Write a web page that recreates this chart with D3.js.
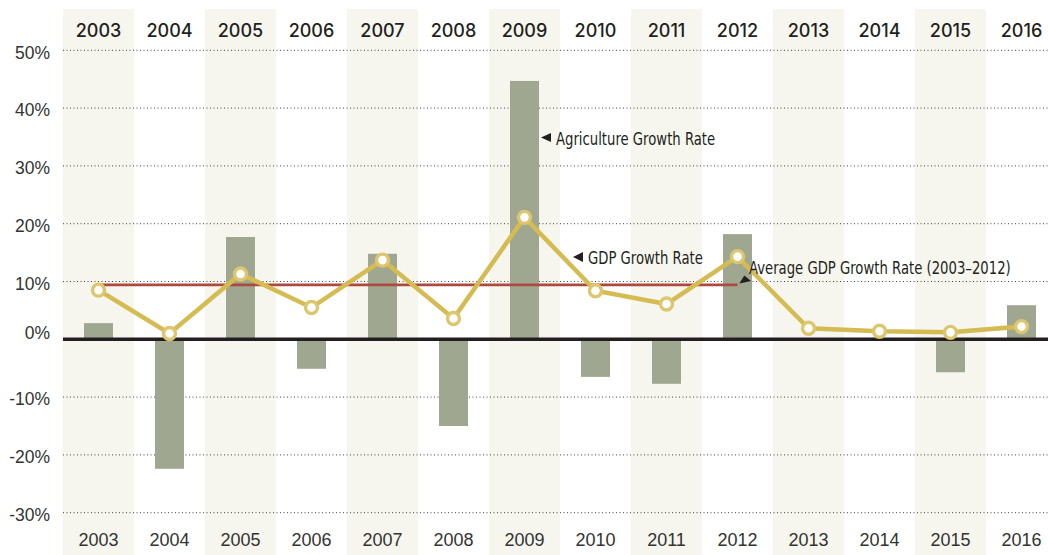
<!DOCTYPE html>
<html>
<head>
<meta charset="utf-8">
<script src="https://cdn.jsdelivr.net/npm/d3@7"></script>
<style>
  html, body { margin: 0; padding: 0; background: #fff; }
  svg { display: block; }
</style>
</head>
<body>
<svg id="chart" width="1048" height="555"></svg>
<script>
const years = ["2003","2004","2005","2006","2007","2008","2009","2010","2011","2012","2013","2014","2015","2016"];
const agriculture = [2.8, -22.4, 17.7, -5.1, 14.8, -15.0, 44.7, -6.5, -7.7, 18.2, null, null, -5.7, 5.9];
const gdp = [8.5, 1.0, 11.3, 5.5, 13.7, 3.6, 21.1, 8.4, 6.1, 14.3, 1.9, 1.4, 1.2, 2.2];
const averageGdp = 9.4;
const averageRange = ["2003", "2012"];
const yTicks = [50, 40, 30, 20, 10, 0, -10, -20, -30];
const annotations = [
  { text: "Agriculture Growth Rate", x: 556, y: 145 },
  { text: "GDP Growth Rate", x: 588, y: 263.5 },
  { text: "Average GDP Growth Rate (2003–2012)", x: 749, y: 273.5 }
];

const svg = d3.select("#chart");
const W = 1048, H = 555;
const left = 63, colW = 71;

const x = d3.scaleBand().domain(years).range([left, left + colW * years.length]).padding(0);
const y = d3.scaleLinear().domain([-30, 50]).range([512.7, 50.3]);
const barW = 29;
const cx = d => x(d) + x.bandwidth() / 2;

// alternating column bands
svg.append("g").selectAll("rect").data(years.filter((d, i) => i % 2 === 0)).join("rect")
  .attr("x", d => x(d)).attr("y", 9).attr("width", x.bandwidth()).attr("height", H - 9)
  .attr("fill", "#f7f6ee");

// dotted grid
svg.append("g").selectAll("line").data(yTicks.filter(t => t !== 0)).join("line")
  .attr("x1", left).attr("x2", W).attr("y1", d => y(d)).attr("y2", d => y(d))
  .attr("stroke", "#444").attr("stroke-width", 1).attr("stroke-dasharray", "1,2.5");

// y labels
const yAxis = d3.axisLeft(y).tickValues(yTicks).tickSize(0).tickPadding(0).tickFormat(d => d + "%");
const ya = svg.append("g").attr("transform", "translate(50,0)").call(yAxis);
ya.select(".domain").remove();
ya.selectAll("text")
  .attr("font-family", "'Liberation Sans', Arial, sans-serif")
  .attr("font-size", "17.5px").attr("fill", "#333")
  .attr("dy", d => d === 0 ? "-0.05em" : "0.45em");

// bars
svg.append("g").selectAll("rect").data(years.map((d, i) => ({ year: d, v: agriculture[i] })).filter(d => d.v !== null)).join("rect")
  .attr("x", d => cx(d.year) - barW / 2)
  .attr("y", d => y(Math.max(0, d.v)))
  .attr("width", barW)
  .attr("height", d => Math.abs(y(d.v) - y(0)))
  .attr("fill", "#a0a790");

// zero line
svg.append("line").attr("x1", left).attr("x2", W).attr("y1", y(0)).attr("y2", y(0))
  .attr("stroke", "#231f20").attr("stroke-width", 3.5);

// average line
svg.append("line")
  .attr("x1", cx(averageRange[0])).attr("x2", cx(averageRange[1]))
  .attr("y1", y(averageGdp)).attr("y2", y(averageGdp))
  .attr("stroke", "#ad4a3f").attr("stroke-width", 2.8);

// gdp line
const line = d3.line().x((d, i) => cx(years[i])).y(d => y(d));
svg.append("path").datum(gdp).attr("d", line)
  .attr("fill", "none").attr("stroke", "#d4bb52").attr("stroke-width", 4.5).attr("stroke-linejoin", "miter");

svg.append("g").selectAll("circle").data(gdp).join("circle")
  .attr("cx", (d, i) => cx(years[i])).attr("cy", d => y(d)).attr("r", 6)
  .attr("fill", "#fff").attr("stroke", "#dcc670").attr("stroke-width", 3.4);

// year labels
svg.append("g").selectAll("text").data(years).join("text")
  .attr("x", d => cx(d)).attr("y", 37).attr("text-anchor", "middle")
  .attr("font-family", "Inter, Roboto, 'Liberation Sans', sans-serif").attr("font-weight", 500)
  .attr("font-size", "18px").attr("fill", "#231f20").text(d => d);

svg.append("g").selectAll("text").data(years).join("text")
  .attr("x", d => cx(d)).attr("y", 546).attr("text-anchor", "middle")
  .attr("font-family", "'Liberation Sans', Arial, sans-serif")
  .attr("font-size", "18px").attr("fill", "#333").text(d => d);

// annotations
const annoFont = "'DejaVu Sans Condensed', 'Liberation Sans', sans-serif";
const anno = svg.append("g").attr("fill", "#231f20");
anno.append("path").attr("d", "M541,137.5 L551,133 L551,142 Z");
anno.append("path").attr("d", "M573,257 L583,252 L583,262 Z");
anno.append("path").attr("d", "M739.3,283.5 L744.3,275.5 L751,281 Z");
anno.selectAll("text").data(annotations).join("text")
  .attr("transform", d => `translate(${d.x},${d.y}) scale(0.84,1)`)
  .attr("font-family", annoFont).attr("font-size", "17.5px")
  .text(d => d.text);
</script>
</body>
</html>
